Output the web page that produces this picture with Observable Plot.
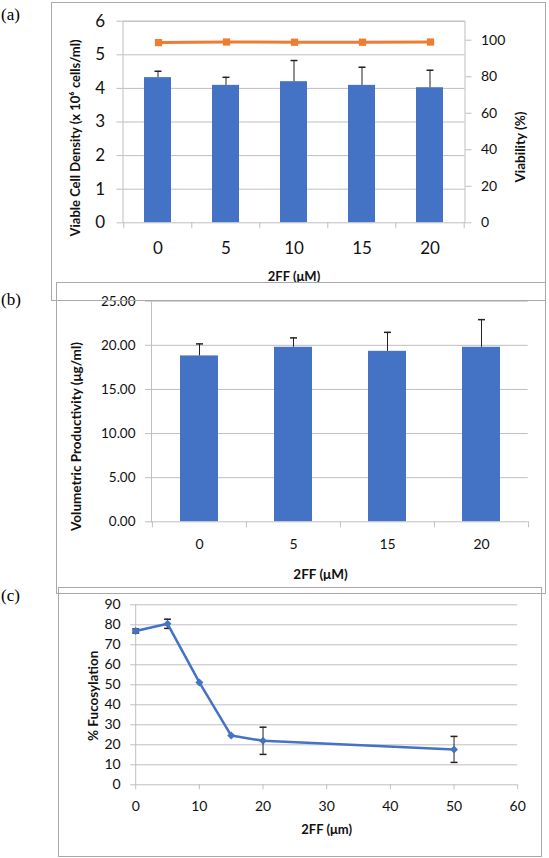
<!DOCTYPE html>
<html>
<head>
<meta charset="utf-8">
<script src="https://cdn.jsdelivr.net/npm/d3@7"></script>
<script src="https://cdn.jsdelivr.net/npm/@observablehq/plot@0.6"></script>
<style>
  body { margin: 0; background: #fff; }
  #fig { position: relative; width: 549px; height: 858px; overflow: hidden; }
  .panel { position: absolute; }
  .panel svg { position: absolute; left: 0; top: 0; overflow: visible; max-width: none; }
  .box { position: absolute; border: 1px solid #a9a9a9; box-sizing: border-box; }
  .tag { position: absolute; left: 1px; font-family: "Liberation Serif", serif; font-size: 17px; line-height: 17px; }
</style>
</head>
<body>
<div id="fig"></div>
<script>
// (a) viable cell density + viability
const doseA = ["0", "5", "10", "15", "20"]
const vcd = [4.32, 4.09, 4.20, 4.09, 4.02]
const vcdErr = [0.19, 0.24, 0.63, 0.54, 0.52]
const viability = [98.7, 99.0, 98.9, 98.9, 99.0]

// (b) volumetric productivity
const doseB = ["0", "5", "15", "20"]
const titer = [18.80, 19.78, 19.32, 19.78]
const titerErr = [1.36, 1.06, 2.15, 3.13]

// (c) fucosylation
const doseC = [0, 5, 10, 15, 20, 50]
const fuc = [76.9, 80.5, 51.2, 24.6, 22.0, 17.7]
const fucErr = [1.0, 2.3, 0, 0, 6.8, 6.5]

const blue = "#4472c4", orange = "#ed7d31", grid = "#bfbfbf", ink = "#111", errInk = "#222"
const font = "Lato, 'Open Sans', sans-serif"
const fig = document.getElementById("fig")

// little horizontal bar used as error bar cap
const cap = {draw(ctx) { ctx.moveTo(-3.5, 0); ctx.lineTo(3.5, 0) }}

function panel(p, ...charts) {
  const div = document.createElement("div")
  div.className = "panel"
  Object.assign(div.style, {left: p.left + "px", top: p.top + "px", width: p.w + "px", height: p.h + "px"})
  charts.forEach(c => div.appendChild(c))
  fig.appendChild(div)
}

function dims(p) {
  return {width: p.w, height: p.h, marginTop: p.mt, marginRight: p.mr, marginBottom: p.mb, marginLeft: p.ml}
}

function title(text, o) {
  return Plot.text([text], {text: d => d, fontWeight: "bold", fill: ink, textAnchor: "middle", lineAnchor: "middle", ...o})
}

// boundary ticks under a category axis
function bandTicks(cats, step, ph) {
  return [
    Plot.ruleX(cats, {x: d => d, dx: -step / 2, insetTop: ph, insetBottom: -6, stroke: grid}),
    Plot.ruleX(cats.slice(-1), {x: d => d, dx: step / 2, insetTop: ph, insetBottom: -6, stroke: grid})
  ]
}

// ---------- (a)
const A = {left: 51, top: 2, w: 495, h: 299, mt: 18.7, mr: 81.5, mb: 78.7, ml: 71.5}
const tableA = doseA.map((d, i) => ({dose: d, vcd: vcd[i], top: vcd[i] + vcdErr[i], via: viability[i]}))
const stepA = (A.w - A.ml - A.mr) / doseA.length
const xA = {domain: doseA, paddingInner: 0.6, paddingOuter: 0.3}

const plotA = Plot.plot({
  ...dims(A),
  style: {fontFamily: font, fontSize: "17px", color: ink, background: "transparent", overflow: "visible"},
  x: xA,
  y: {domain: [0, 6]},
  marks: [
    Plot.gridY({ticks: d3.range(1, 7), stroke: grid, strokeOpacity: 1}),
    Plot.barY(tableA, {x: "dose", y: "vcd", fill: blue}),
    Plot.ruleX(tableA, {x: "dose", y1: "vcd", y2: "top", stroke: errInk}),
    Plot.dot(tableA, {x: "dose", y: "top", symbol: cap, stroke: errInk, fill: "none"}),
    Plot.frame({stroke: grid}),
    Plot.axisY({ticks: d3.range(0, 7), tickFormat: d3.format("d"), tickSize: 6, tickPadding: 12, fontSize: 17, stroke: grid, fill: ink, label: null}),
    Plot.axisX({tickSize: 0, tickPadding: 19, fontSize: 17, fill: ink, label: null}),
    ...bandTicks(doseA, stepA, A.h - A.mt - A.mb),
    title("Viable Cell Density (x 10⁶ cells/ml)", {frameAnchor: "left", rotate: -90, dx: -47.5, dy: 16, fontSize: 13}),
    title("2FF (μM)", {frameAnchor: "bottom", dy: 54, fontSize: 13})
  ]
})

const plotA2 = Plot.plot({
  ...dims(A),
  style: {fontFamily: font, fontSize: "14px", color: ink, background: "transparent", overflow: "visible"},
  x: {...xA, axis: null},
  y: {domain: [0, 110.4]},
  marks: [
    Plot.line(tableA, {x: "dose", y: "via", stroke: orange, strokeWidth: 3}),
    Plot.dot(tableA, {x: "dose", y: "via", symbol: "square", r: 4.1, fill: orange}),
    Plot.axisY({anchor: "right", ticks: d3.range(0, 101, 20), tickSize: 6, tickPadding: 10, fontSize: 14, stroke: grid, fill: ink, label: null}),
    title("Viability (%)", {frameAnchor: "right", rotate: -90, dx: 55.5, dy: 25, fontSize: 13.5})
  ]
})
panel(A, plotA, plotA2)

// ---------- (b)
const B = {left: 56, top: 282, w: 490, h: 312, mt: 18.7, mr: 18.3, mb: 72.7, ml: 95}
const tableB = doseB.map((d, i) => ({dose: d, titer: titer[i], top: titer[i] + titerErr[i]}))
const stepB = (B.w - B.ml - B.mr) / doseB.length

const plotB = Plot.plot({
  ...dims(B),
  style: {fontFamily: font, fontSize: "14px", color: ink, background: "transparent", overflow: "visible"},
  x: {domain: doseB, paddingInner: 0.6, paddingOuter: 0.3},
  y: {domain: [0, 25]},
  marks: [
    Plot.gridY({ticks: d3.range(5, 26, 5), stroke: grid, strokeOpacity: 1}),
    Plot.barY(tableB, {x: "dose", y: "titer", fill: blue}),
    Plot.ruleX(tableB, {x: "dose", y1: "titer", y2: "top", stroke: errInk}),
    Plot.dot(tableB, {x: "dose", y: "top", symbol: cap, stroke: errInk, fill: "none"}),
    Plot.ruleY([0], {stroke: grid}),
    Plot.frame({anchor: "left", stroke: grid}),
    Plot.axisY({ticks: d3.range(0, 26, 5), tickFormat: d3.format(".2f"), tickSize: 6, tickPadding: 10, fontSize: 13.5, stroke: grid, fill: ink, label: null}),
    Plot.axisX({tickSize: 0, tickPadding: 17, fontSize: 14, fill: ink, label: null}),
    ...bandTicks(doseB, stepB, B.h - B.mt - B.mb),
    title("Volumetric Productivity (μg/ml)", {frameAnchor: "left", rotate: -90, dx: -75.3, dy: 25, fontSize: 13.5}),
    title("2FF (μM)", {frameAnchor: "bottom", dx: -19.3, dy: 53, fontSize: 13.5})
  ]
})
panel(B, plotB)

// ---------- (c)
const C = {left: 58, top: 587, w: 484, h: 270, mt: 17.3, mr: 24.8, mb: 72.7, ml: 77.2}
const tableC = doseC.map((d, i) => ({dose: d, fuc: fuc[i], lo: fuc[i] - fucErr[i], hi: fuc[i] + fucErr[i], err: fucErr[i]}))
const errC = tableC.filter(d => d.err > 0)

const plotC = Plot.plot({
  ...dims(C),
  style: {fontFamily: font, fontSize: "14px", color: ink, background: "transparent", overflow: "visible"},
  x: {domain: [0, 60]},
  y: {domain: [0, 90]},
  marks: [
    Plot.gridY({ticks: d3.range(10, 91, 10), stroke: grid, strokeOpacity: 1}),
    Plot.ruleY([0], {stroke: grid}),
    Plot.ruleX([0], {stroke: grid}),
    Plot.axisY({ticks: d3.range(0, 91, 10), tickSize: 5, tickPadding: 10, fontSize: 14, stroke: grid, fill: ink, label: null}),
    Plot.axisX({ticks: d3.range(0, 61, 10), tickSize: 5, tickPadding: 11, fontSize: 14, stroke: grid, fill: ink, label: null}),
    Plot.ruleX(errC, {x: "dose", y1: "lo", y2: "hi", stroke: errInk}),
    Plot.dot(errC, {x: "dose", y: "lo", symbol: cap, stroke: errInk, fill: "none"}),
    Plot.dot(errC, {x: "dose", y: "hi", symbol: cap, stroke: errInk, fill: "none"}),
    Plot.line(tableC, {x: "dose", y: "fuc", stroke: blue, strokeWidth: 2.5}),
    Plot.dot(tableC, {x: "dose", y: "fuc", symbol: "diamond2", r: 3.6, fill: blue}),
    title("% Fucosylation", {frameAnchor: "left", rotate: -90, dx: -42.4, dy: 1, fontSize: 13.5}),
    title("2FF (μm)", {frameAnchor: "bottom", dy: 45, fontSize: 13})
  ]
})
panel(C, plotC)

// panel frames and tags
for (const p of [A, B, C]) {
  const b = document.createElement("div")
  b.className = "box"
  Object.assign(b.style, {left: p.left + "px", top: p.top + "px", width: p.w + "px", height: p.h + "px"})
  fig.appendChild(b)
}
;[["(a)", 6], ["(b)", 291], ["(c)", 587]].forEach(([t, y]) => {
  const s = document.createElement("div")
  s.className = "tag"
  s.style.top = y + "px"
  s.textContent = t
  fig.appendChild(s)
})
</script>
</body>
</html>
